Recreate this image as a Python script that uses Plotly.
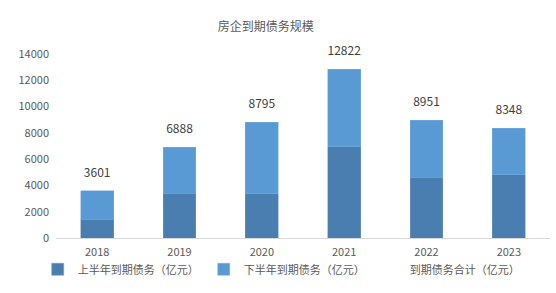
import plotly.graph_objects as go

years = ["2018", "2019", "2020", "2021", "2022", "2023"]
first_half = [1420, 3400, 3350, 6950, 4620, 4820]
totals = [3601, 6888, 8795, 12822, 8951, 8348]
second_half = [t - f for t, f in zip(totals, first_half)]
total_labels = [str(t) for t in totals]

FONT = "Noto Sans CJK SC, Microsoft YaHei, sans-serif"
GRAY = "#595959"

fig = go.Figure()
fig.add_trace(go.Bar(x=years, y=first_half, name="上半年到期债务（亿元）",
                     marker=dict(color="#4a7db0", line=dict(color="#6a9cc8", width=0.5))))
fig.add_trace(go.Bar(x=years, y=second_half, name="下半年到期债务（亿元）",
                     marker=dict(color="#5a9ad4", line=dict(color="#7ab0e0", width=0.5))))
fig.add_trace(go.Scatter(x=years, y=totals, name="到期债务合计（亿元）", mode="lines",
                         line=dict(color="rgba(0,0,0,0)"), hoverinfo="skip"))
fig.add_trace(go.Scatter(x=years, y=totals, mode="markers+text", text=total_labels,
                         textposition="top center", showlegend=False, hoverinfo="skip",
                         cliponaxis=False,
                         marker=dict(size=16, color="rgba(0,0,0,0)"),
                         textfont=dict(size=12, color="#404040", family=FONT)))

fig.update_layout(
    width=556, height=293,
    margin=dict(l=56, r=6, t=54, b=55, autoexpand=False),
    paper_bgcolor="white", plot_bgcolor="white",
    barmode="stack", bargap=0.6,
    font=dict(family=FONT, size=11, color=GRAY),
    title=dict(text="房企到期债务规模", x=0.478, xref="container", xanchor="center",
               y=1 - 27 / 293, yref="container", yanchor="middle",
               font=dict(size=12, color=GRAY, family=FONT)),
    showlegend=True,
    legend=dict(orientation="h", x=-0.037, xanchor="left",
                y=-0.17, yanchor="middle",
                font=dict(size=11, color=GRAY, family=FONT), traceorder="normal",
                itemwidth=30, bgcolor="rgba(0,0,0,0)"),
)
fig.update_yaxes(range=[0, 14000], dtick=2000, tickformat="d", showgrid=False, zeroline=False,
                 showline=False, tickfont=dict(size=11, color=GRAY), ticklabelstandoff=6)
fig.update_xaxes(type="category", showline=True, linecolor="#d9d9d9", linewidth=1, showgrid=False,
                 tickfont=dict(size=11, color=GRAY), ticks="", ticklabelstandoff=4)

fig.write_html("out.html")
